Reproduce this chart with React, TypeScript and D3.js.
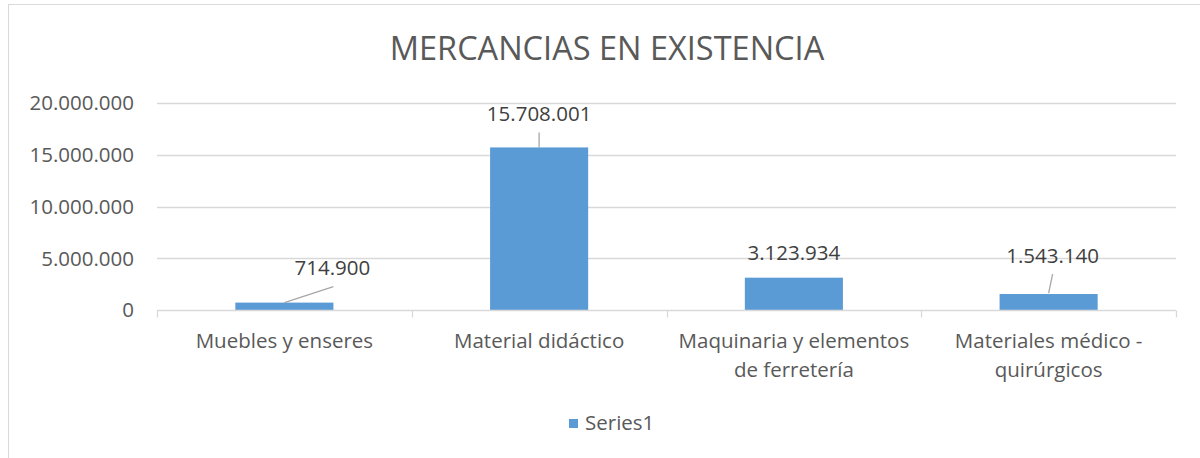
import React, { useRef, useEffect } from "react";
import * as d3 from "d3";

const categories: string[][] = [
  ["Muebles y enseres"],
  ["Material didáctico"],
  ["Maquinaria y elementos", "de ferretería"],
  ["Materiales médico -", "quirúrgicos"],
];
const values: number[] = [714900, 15708001, 3123934, 1543140];
const yTicks: number[] = [0, 5000000, 10000000, 15000000, 20000000];
const seriesName = "Series1";
const title = "MERCANCIAS EN EXISTENCIA";

// where the data labels were dragged to, relative to the bar top (px)
const labelOffsets: [number, number][] = [
  [48, -28],
  [0, -26],
  [0, -18],
  [4, -31],
];
// leader lines: [has line, start dy above bar top, end dx, end dy]
const leaders: [boolean, number, number, number][] = [
  [true, 0, 49, -16],
  [true, 0, 0, -15],
  [false, 0, 0, 0],
  [true, 1, 4, -20],
];

const FONT = "'Open Sans', sans-serif";
const FS = 20.5;
const fmt = (v: number) =>
  d3.format(",")(v).replace(/,/g, ".");

const App = () => {
  const ref = useRef<SVGSVGElement>(null);

  useEffect(() => {
    if (!ref.current) return;
    const W = 1200;
    const H = 458;
    const margin = { top: 103, right: 24, bottom: 148, left: 157 };
    const width = W - margin.left - margin.right;
    const height = H - margin.top - margin.bottom;

    const root = d3.select(ref.current);
    root.selectAll("*").remove();

    // chart border
    root
      .append("rect")
      .attr("x", 8.5)
      .attr("y", 4.5)
      .attr("width", W)
      .attr("height", H)
      .attr("fill", "#fff")
      .attr("stroke", "#d9d9d9")
      .attr("stroke-width", 1);

    root
      .append("text")
      .attr("x", 607)
      .attr("y", 60)
      .attr("text-anchor", "middle")
      .attr("font-family", FONT)
      .attr("font-size", 32.5)
      .attr("fill", "#595959")
      .text(title);

    const svg = root
      .append("g")
      .attr("transform", `translate(${margin.left},${margin.top})`);

    const x = d3
      .scaleBand<number>()
      .domain(d3.range(values.length))
      .range([0, width])
      .padding(0);

    const y = d3.scaleLinear().domain([0, 20000000]).range([height, 0]);

    // gridlines
    svg
      .selectAll(".grid")
      .data(yTicks.filter((t) => t > 0))
      .enter()
      .append("line")
      .attr("x1", 0)
      .attr("x2", width)
      .attr("y1", (d) => Math.round(y(d)) + 0.5)
      .attr("y2", (d) => Math.round(y(d)) + 0.5)
      .attr("stroke", "#d9d9d9")
      .attr("stroke-width", 1.3);

    // y tick labels
    svg
      .selectAll(".ylab")
      .data(yTicks)
      .enter()
      .append("text")
      .attr("x", -23)
      .attr("y", (d) => y(d))
      .attr("dy", "0.36em")
      .attr("text-anchor", "end")
      .attr("font-family", FONT)
      .attr("font-size", FS)
      .attr("fill", "#595959")
      .text((d) => fmt(d));

    // bars
    const barW = x.bandwidth() * 0.385;
    svg
      .selectAll(".bar")
      .data(values)
      .enter()
      .append("rect")
      .attr("x", (d, i) => x(i)! + x.bandwidth() / 2 - barW / 2)
      .attr("y", (d) => y(d))
      .attr("width", barW)
      .attr("height", (d) => height - y(d))
      .attr("fill", "#5b9bd5");

    // category axis
    const axisY = Math.round(height) + 0.5;
    svg
      .append("line")
      .attr("x1", 0)
      .attr("x2", width)
      .attr("y1", axisY)
      .attr("y2", axisY)
      .attr("stroke", "#d9d9d9")
      .attr("stroke-width", 1.3);
    svg
      .selectAll(".xtick")
      .data(d3.range(values.length + 1))
      .enter()
      .append("line")
      .attr("x1", (i) => Math.round(i * x.step()) + 0.5)
      .attr("x2", (i) => Math.round(i * x.step()) + 0.5)
      .attr("y1", axisY)
      .attr("y2", axisY + 7)
      .attr("stroke", "#d9d9d9")
      .attr("stroke-width", 1.3);

    const catText = svg
      .selectAll(".xlab")
      .data(categories)
      .enter()
      .append("text")
      .attr("text-anchor", "middle")
      .attr("font-family", FONT)
      .attr("font-size", FS)
      .attr("fill", "#595959");
    catText
      .selectAll("tspan")
      .data((d, i) => d.map((line) => ({ line, i })))
      .enter()
      .append("tspan")
      .attr("x", (d) => x(d.i)! + x.bandwidth() / 2)
      .attr("y", (d, j) => height + 38 + j * 29)
      .text((d) => d.line);

    // leader lines
    svg
      .selectAll(".leader")
      .data(values.map((v, i) => ({ v, i })).filter((d) => leaders[d.i][0]))
      .enter()
      .append("line")
      .attr("x1", (d) => x(d.i)! + x.bandwidth() / 2)
      .attr("y1", (d) => y(d.v) - leaders[d.i][1])
      .attr("x2", (d) => x(d.i)! + x.bandwidth() / 2 + leaders[d.i][2])
      .attr("y2", (d) => y(d.v) + leaders[d.i][3])
      .attr("stroke", "#a6a6a6")
      .attr("stroke-width", 1.3);

    // data labels
    svg
      .selectAll(".dlab")
      .data(values)
      .enter()
      .append("text")
      .attr("x", (d, i) => x(i)! + x.bandwidth() / 2 + labelOffsets[i][0])
      .attr("y", (d, i) => y(d) + labelOffsets[i][1])
      .attr("text-anchor", "middle")
      .attr("font-family", FONT)
      .attr("font-size", FS)
      .attr("fill", "#404040")
      .text((d) => fmt(d));

    // legend
    const leg = root.append("g").attr("transform", "translate(569,419)");
    leg
      .append("rect")
      .attr("width", 9)
      .attr("height", 9)
      .attr("fill", "#5b9bd5");
    leg
      .append("text")
      .attr("x", 16)
      .attr("y", 11)
      .attr("font-family", FONT)
      .attr("font-size", FS)
      .attr("fill", "#595959")
      .text(seriesName);
  }, []);

  return (
    <svg
      ref={ref}
      width={1200}
      height={458}
      style={{ position: "absolute", left: 0, top: 0 }}
    ></svg>
  );
};

export default App;
